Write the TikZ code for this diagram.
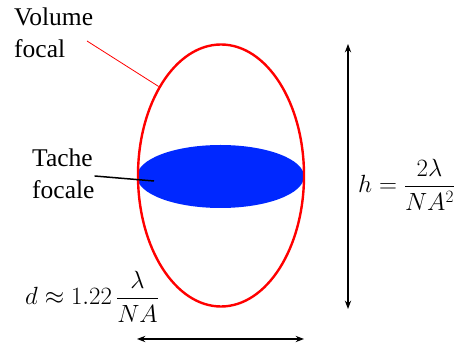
\documentclass[tikz,border=0pt]{standalone}
\usepackage{amsmath}
\usepackage{fontspec}
\setmainfont{LiberationSerif}[Extension=.ttf, UprightFont=*-Regular, BoldFont=*-Bold]
\usetikzlibrary{positioning,arrows.meta,shapes.geometric}
\definecolor{spotblue}{RGB}{0,40,255}
\begin{document}
\begin{tikzpicture}[x=1pt,y=-1pt,
    lbl/.style={align=left, inner sep=0pt, font=\fontsize{25.5}{32}\selectfont},
    eq/.style={inner sep=0pt, font=\fontsize{25}{30}\selectfont},
    arr/.style={<->, >=Stealth, line width=1.2pt}
  ]
    \useasboundingbox (0,0) rectangle (456,344);
    % focal spot and focal volume
    \node[ellipse, fill=spotblue, minimum width=167, minimum height=63] (spot) at (220.5,176.5) {};
    \node[ellipse, draw=red, line width=2.4pt, minimum width=166, minimum height=262] (vol) at (221,175.5) {};
    % labels
    \node[lbl, anchor=north west] (vlbl) at (14,8) {Volume\\focal};
    \node[lbl, anchor=north west] (tlbl) at (32,149) {Tache\\focale};
    \coordinate (vtip) at (87,41);
    \coordinate (ttip) at (154,181);
    \draw[red, line width=0.8pt] (vtip) -- (vol.125);
    \draw[line width=1.5pt] (tlbl.east |- 0,176) -- (ttip);
    % dimensions
    \coordinate (htop) at (348,44);
    \coordinate (hbot) at (348,309);
    \coordinate (dleft) at (137,339);
    \coordinate (dright) at (304,339);
    \draw[arr] (htop) -- (hbot);
    \draw[arr] (dleft) -- (dright);
    \node[eq, anchor=base west] (heq) at (358,193) {$h=\dfrac{2\lambda}{NA^2}$};
    \node[eq, anchor=base west] (deq) at (25,305) {$d\approx 1.22\,\dfrac{\lambda}{NA}$};
\end{tikzpicture}
\end{document}
